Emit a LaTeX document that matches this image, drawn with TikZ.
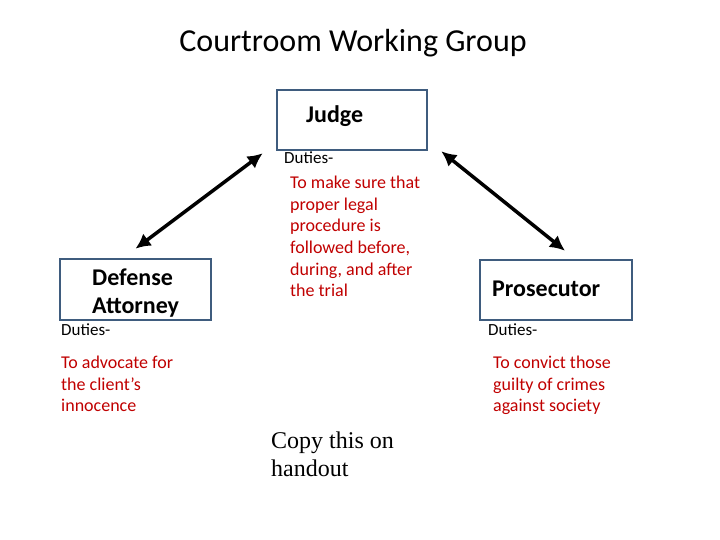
\documentclass[tikz,border=0pt]{standalone}
\usepackage{fontspec}
\setmainfont{Carlito}
\newfontfamily\timesfont{Liberation Serif}
\usetikzlibrary{arrows.meta}
\definecolor{boxblue}{HTML}{3F5C7E}
\definecolor{dutyred}{HTML}{C00000}
\tikzset{
  rolebox/.style={draw=boxblue, line width=2.6pt, inner sep=0pt},
  rolename/.style={font=\fontsize{24}{28}\selectfont\bfseries, align=left, inner sep=0pt},
  dutylabel/.style={font=\fontsize{17}{21}\selectfont, anchor=base west, inner sep=0pt},
  dutytext/.style={font=\fontsize{18}{21.6}\selectfont, text=dutyred, align=left, anchor=north west, inner sep=0pt},
  link/.style={line width=3.5pt, {Latex[length=15pt,width=15pt]}-{Latex[length=15pt,width=15pt]}}
}
\begin{document}
\begin{tikzpicture}[x=1pt, y=-1pt]
    \useasboundingbox (0,0) rectangle (720,540);
    % title
    \node[font=\fontsize{32}{36}\selectfont, anchor=base, inner sep=0pt] (title) at (353,52) {Courtroom Working Group};
    % boxes
    \node[rolebox, minimum width=150pt, minimum height=60pt] (judge) at (352,120) {};
    \node[rolebox, minimum width=151pt, minimum height=61pt] (defense) at (135.5,289.5) {};
    \node[rolebox, minimum width=152pt, minimum height=60pt] (prosecutor) at (556,290) {};
    \node[rolename, anchor=base west] (judgename) at (306,123) {Judge};
    \node[rolename, anchor=west] (defensename) at (92,293) {Defense\\Attorney};
    \node[rolename, anchor=base west] (prosecutorname) at (492,296) {Prosecutor};
    % connectors
    \draw[link] ([yshift=9pt]defense.north) -- ([xshift=-13pt,yshift=-2pt]judge.south west);
    \draw[link] ([xshift=13pt]judge.south east) -- ([xshift=9pt,yshift=8pt]prosecutor.north);
    % duties
    \node[dutylabel] (judgeduty) at (284,164) {Duties-};
    \node[dutytext] (judgetext) at (290,176) {To make sure that\\proper legal\\procedure is\\followed before,\\during, and after\\the trial};
    \node[dutylabel] (defenseduty) at (61,335) {Duties-};
    \node[dutytext] (defensetext) at (61,356) {To advocate for\\the client's\\innocence};
    \node[dutylabel] (prosecutorduty) at (488,335) {Duties-};
    \node[dutytext] (prosecutortext) at (493,356) {To convict those\\guilty of crimes\\against society};
    % note
    \node[font=\timesfont\fontsize{24}{28}\selectfont, align=left, anchor=north west, inner sep=0pt] (note) at (271,432) {Copy this on\\handout};
\end{tikzpicture}
\end{document}
